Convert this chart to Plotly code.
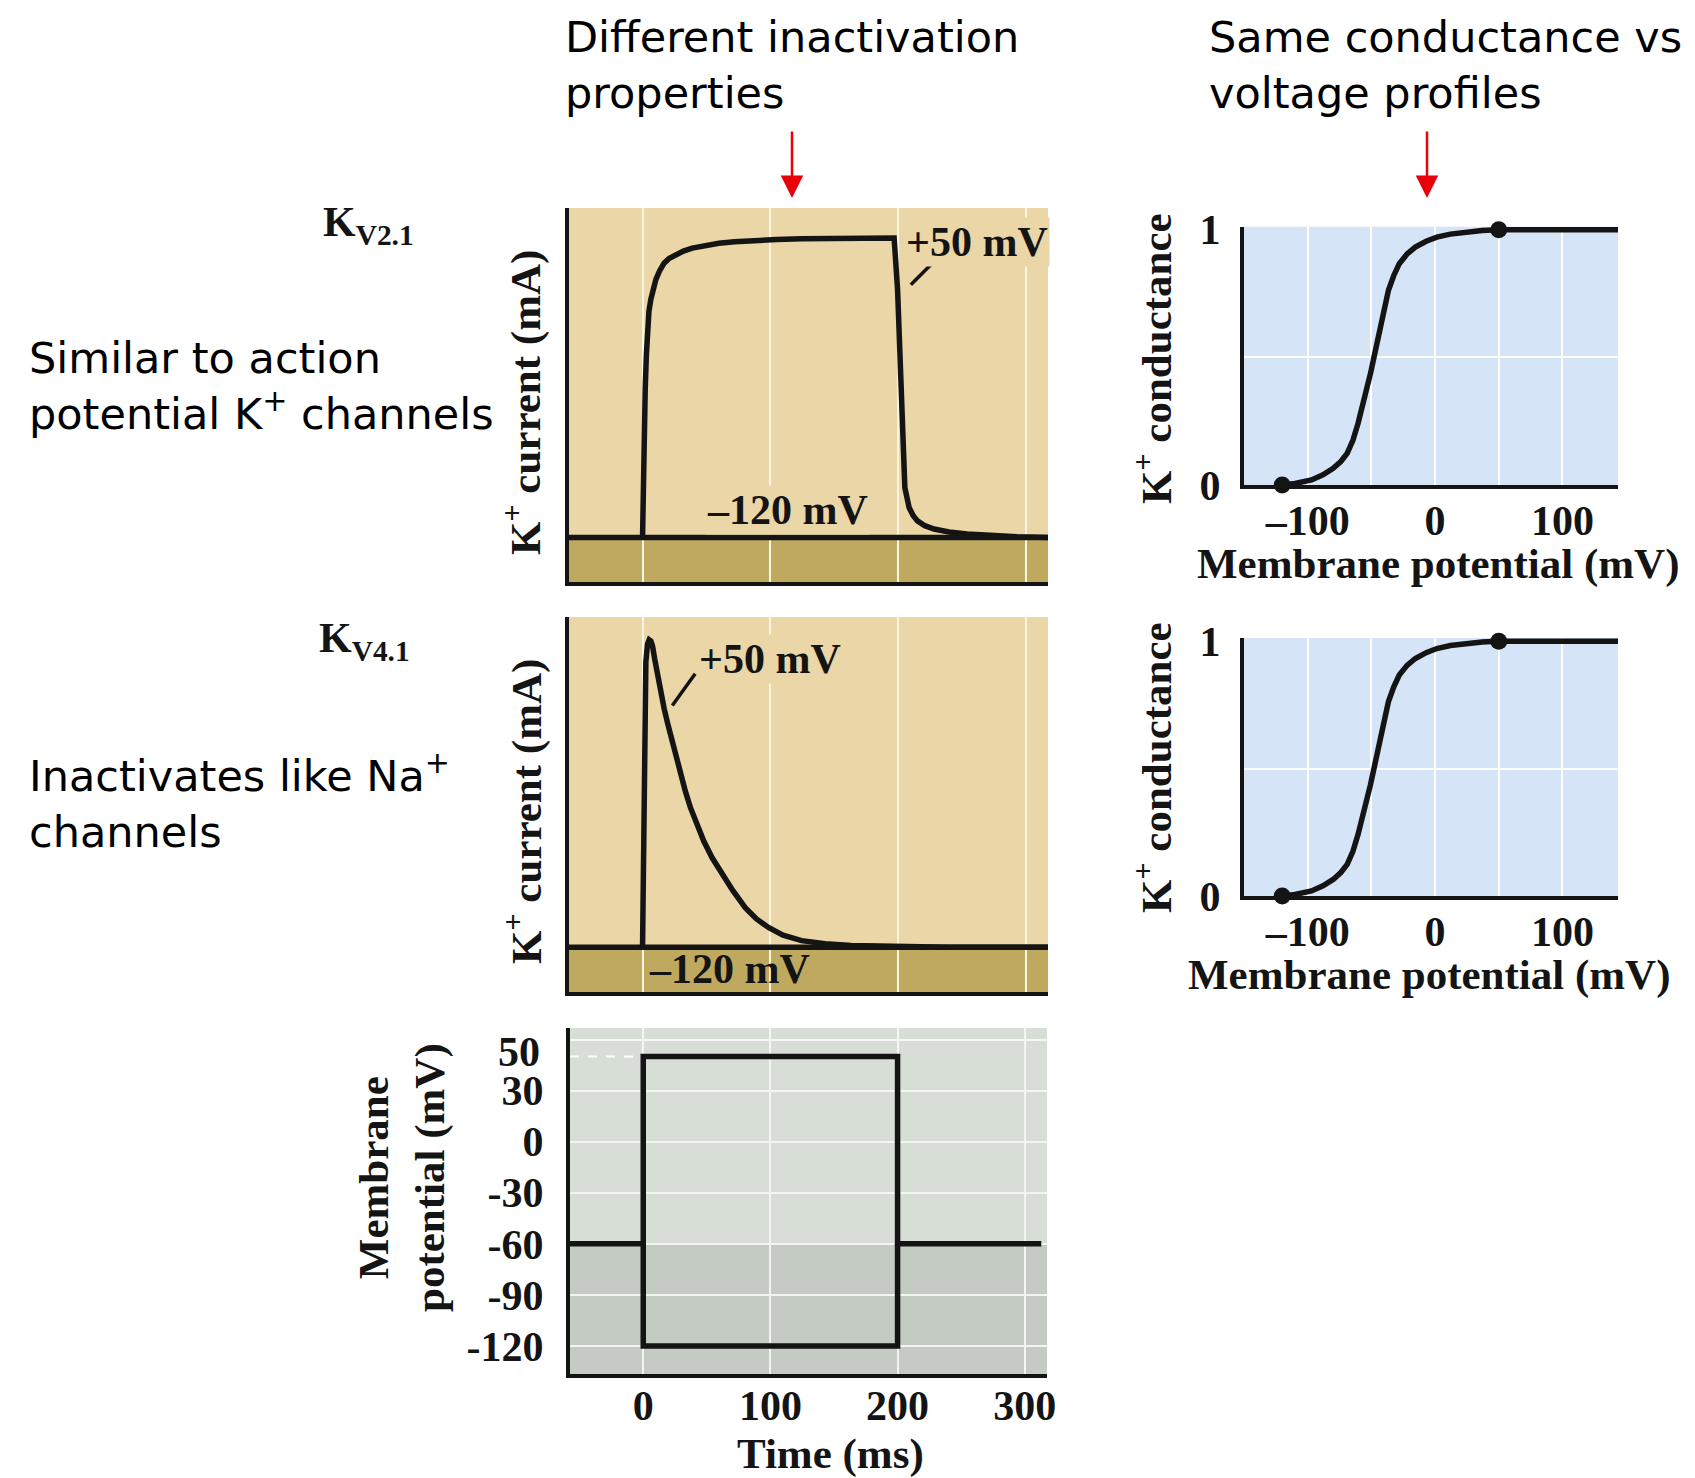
import plotly.graph_objects as go

# page body has an 8px margin; figure is sized to fit the window
OFF = 8
W, H = 1695 - OFF, 1478 - OFF

# ---------------- data ----------------
time_range = [-57.6, 317.5]          # ms
time_ticks = [0, 100, 200, 300]

# Kv2.1 current during the +50 mV step (normalised)
kv21_t = [0, 0.5, 1.2, 2.1, 3.0, 3.9, 5.0, 6.5, 8.3, 10.4, 13.3, 16.9, 21, 25.9, 32, 38.9, 48,
          59.7, 72, 85.6, 105, 124.5, 160, 197, 199.7, 202.3, 205.4, 208.8, 212, 215.3, 221,
          228.3, 240, 254.2, 272, 293.1, 317.5]
kv21_i = [0, 0.166, 0.33, 0.497, 0.61, 0.695, 0.755, 0.795, 0.83, 0.861, 0.89, 0.916, 0.932,
          0.944, 0.956, 0.966, 0.975, 0.982, 0.987, 0.991, 0.995, 0.997, 0.999, 1.0, 0.828,
          0.497, 0.166, 0.099, 0.072, 0.055, 0.039, 0.028, 0.018, 0.011, 0.005, 0.002, 0]

# Kv4.1 current during the +50 mV step (normalised)
kv41_t = [0, 2.6, 3.9, 5.2, 6.5, 7.8, 9.5, 11.7, 14, 16.9, 20, 23.3, 26.5, 29.8, 33.5, 37.6,
          42.5, 48, 54.5, 62.3, 70.5, 80.4, 89, 98.6, 110, 124.5, 143, 163.4, 200, 240, 317.5]
kv41_i = [0, 0.95, 1.01, 1.024, 1.02, 1.004, 0.96, 0.905, 0.85, 0.795, 0.74, 0.684, 0.63,
          0.574, 0.52, 0.464, 0.408, 0.353, 0.298, 0.243, 0.19, 0.132, 0.095, 0.066, 0.04,
          0.022, 0.012, 0.006, 0.002, 0, 0]

# -120 mV step: no current
baseline_t = [-57.6, 317.5]
baseline_i = [0, 0]

# Voltage protocol
step_times = [0, 200]
holding_mV = -60
test_mV = [50, -120]
protocol_end = 313
v_range = [-136.5, 66.8]
v_grid = [60, 30, 0, -30, -60, -90, -120]
v_labels = ["", "30", "0", "-30", "-60", "-90", "-120"]

# Conductance-voltage curve (same for both channels)
g_V = [-120, -110, -97, -88, -80, -74, -69, -64.5, -60.5, -57, -53.5, -50.7, -47.9, -45,
       -42.2, -39.4, -36.6, -32.5, -28.1, -22, -15.5, -7, 1.4, 12, 23.9, 37, 49.3, 143.6]
g_val = [0, 0.006, 0.02, 0.04, 0.065, 0.092, 0.124, 0.175, 0.241, 0.305, 0.372, 0.437, 0.502,
         0.567, 0.632, 0.698, 0.763, 0.82, 0.867, 0.905, 0.932, 0.955, 0.971, 0.983, 0.991,
         0.997, 1.0, 1.0]
g_dot_V = [-120, 50]
g_dot_val = [0, 1]
g_xticks = [-100, -50, 0, 50, 100]
g_xtext = ["\u2013100", "", "0", "", "100"]
g_range = [-150, 143.6]

# ---------------- styling ----------------
TAN = "#ead6a6"
TAN_DARK = "#bea95f"
TAN_GRID = "#fcf5e2"
GRAY = "#d7ded6"
GRAY_DARK = "#c3cbc3"
BLUE = "#d5e4f7"
INK = "#141414"
SERIF = "Liberation Serif"
SANS = "DejaVu Sans"
LW = 5.5


def dxp(a, b):
    return [(a - OFF) / W, (b - OFF) / W]


def dyp(top, bottom):
    return [1 - (bottom - OFF) / H, 1 - (top - OFF) / H]


def px(x):
    return (x - OFF) / W


def py(y):
    return 1 - (y - OFF) / H


fig = go.Figure()

line = dict(color=INK, width=LW)

# Kv2.1
fig.add_trace(go.Scatter(x=baseline_t, y=baseline_i, mode="lines", line=line, xaxis="x", yaxis="y"))
fig.add_trace(go.Scatter(x=kv21_t, y=kv21_i, mode="lines", line=line, xaxis="x", yaxis="y"))
# Kv4.1
fig.add_trace(go.Scatter(x=baseline_t, y=baseline_i, mode="lines", line=line, xaxis="x2", yaxis="y2"))
fig.add_trace(go.Scatter(x=kv41_t, y=kv41_i, mode="lines", line=line, xaxis="x2", yaxis="y2"))

# Voltage protocol
t0, t1 = step_times
fig.add_trace(go.Scatter(
    x=[time_range[0], t0, t0, t1, t1, protocol_end],
    y=[holding_mV, holding_mV, test_mV[0], test_mV[0], holding_mV, holding_mV],
    mode="lines", line=line, xaxis="x3", yaxis="y3"))
fig.add_trace(go.Scatter(
    x=[t0, t0, t1, t1],
    y=[holding_mV, test_mV[1], test_mV[1], holding_mV],
    mode="lines", line=line, xaxis="x3", yaxis="y3"))

# Conductance curves
for xa, ya in (("x4", "y4"), ("x5", "y5")):
    fig.add_trace(go.Scatter(x=g_V, y=g_val, mode="lines", line=line, xaxis=xa, yaxis=ya))
    fig.add_trace(go.Scatter(x=g_dot_V, y=g_dot_val, mode="markers", cliponaxis=False,
                             marker=dict(color=INK, size=17), xaxis=xa, yaxis=ya))

tick_font = dict(family=SERIF, size=42, color=INK, weight="bold")

common = dict(automargin=False, zeroline=False, showline=True, linecolor=INK, linewidth=4)

cur_x = dict(range=time_range, tickvals=time_ticks, showticklabels=False, showgrid=True,
             gridcolor=TAN_GRID, gridwidth=2, ticks="", **common)
cur_y = dict(range=[-0.149, 1.1], showgrid=False, showticklabels=False, ticks="", **common)

g_x = dict(range=g_range, tickvals=g_xticks, ticktext=g_xtext, showgrid=True,
           gridcolor="white", gridwidth=2, ticks="", ticklabelstandoff=-4,
           tickfont=tick_font, **common)
g_y = dict(range=[0, 1.012], tickvals=[0, 1], ticktext=["0", "1"], showgrid=False,
           minor=dict(tickvals=[0.5], showgrid=True, gridcolor="white", gridwidth=2),
           ticks="outside", ticklen=11, tickcolor="rgba(0,0,0,0)", tickfont=tick_font,
           **common)

fig.update_layout(
    width=W, height=H, margin=dict(l=0, r=0, t=0, b=0, autoexpand=False),
    paper_bgcolor="white", plot_bgcolor="rgba(0,0,0,0)", showlegend=False,
    xaxis=dict(domain=dxp(569, 1048), anchor="y", **cur_x),
    yaxis=dict(domain=dyp(208, 582), anchor="x", **cur_y),
    xaxis2=dict(domain=dxp(569, 1048), anchor="y2", **cur_x),
    yaxis2=dict(domain=dyp(617, 992), anchor="x2", **cur_y),
    xaxis3=dict(domain=dxp(570, 1047), anchor="y3", range=time_range, tickvals=time_ticks,
                showgrid=True, gridcolor="#f2f5f1", gridwidth=2, ticks="",
                ticklabelstandoff=-8, tickfont=tick_font, **common),
    yaxis3=dict(domain=dyp(1028, 1374), anchor="x3", range=v_range, tickvals=v_grid,
                ticktext=v_labels, showgrid=True, gridcolor="#f2f5f1", gridwidth=2,
                ticks="outside", ticklen=14, tickcolor="rgba(0,0,0,0)", tickfont=tick_font,
                **common),
    xaxis4=dict(domain=dxp(1244, 1618), anchor="y4", **g_x),
    yaxis4=dict(domain=dyp(226.7, 485), anchor="x4", **g_y),
    xaxis5=dict(domain=dxp(1244, 1618), anchor="y5", **g_x),
    yaxis5=dict(domain=dyp(638.1, 896), anchor="x5", **g_y),
)

shapes = []
for xr, yr in (("x", "y"), ("x2", "y2")):
    shapes.append(dict(type="rect", xref=f"{xr} domain", yref=f"{yr} domain", x0=0, x1=1,
                       y0=0, y1=1, fillcolor=TAN, line_width=0, layer="below"))
    shapes.append(dict(type="rect", xref=f"{xr} domain", yref=yr, x0=0, x1=1,
                       y0=-0.149, y1=0, fillcolor=TAN_DARK, line_width=0, layer="below"))
shapes.append(dict(type="rect", xref="x3 domain", yref="y3 domain", x0=0, x1=1, y0=0, y1=1,
                   fillcolor=GRAY, line_width=0, layer="below"))
shapes.append(dict(type="rect", xref="x3 domain", yref="y3", x0=0, x1=1, y0=v_range[0],
                   y1=holding_mV, fillcolor=GRAY_DARK, line_width=0, layer="below"))
shapes.append(dict(type="line", xref="x3", yref="y3", x0=time_range[0], x1=t0, y0=test_mV[0],
                   y1=test_mV[0], line=dict(color="white", width=2, dash="dash"), layer="below"))
for xr, yr in (("x4", "y4"), ("x5", "y5")):
    shapes.append(dict(type="rect", xref=f"{xr} domain", yref=f"{yr} domain", x0=0, x1=1,
                       y0=0, y1=1, fillcolor=BLUE, line_width=0, layer="below"))
# pointer ticks next to the +50 mV labels
shapes.append(dict(type="line", xref="x", yref="y", x0=210.1, y0=0.844, x1=229.6, y1=0.927,
                   line=dict(color=INK, width=3.5)))
shapes.append(dict(type="line", xref="x2", yref="y2", x0=23.3, y0=0.805, x1=41.2, y1=0.911,
                   line=dict(color=INK, width=3.5)))
fig.update_layout(shapes=shapes)

ser = dict(family=SERIF, size=42, color=INK, weight="bold")
ser_t = dict(family=SERIF, size=43, color=INK, weight="bold")
sans = dict(family=SANS, size=43, color="black")
C = dict(xanchor="center", yanchor="middle", showarrow=False)
P = dict(xref="paper", yref="paper")
ann = []
# panel labels
ann.append(dict(text="+50 mV", x=262, y=0.987, xref="x", yref="y", font=ser, bgcolor=TAN, **C))
ann.append(dict(text="\u2013120 mV", x=113.6, y=0.09, xref="x", yref="y", font=ser,
                bgcolor=TAN, **C))
ann.append(dict(text="+50 mV", x=99.6, y=0.96, xref="x2", yref="y2", font=ser, bgcolor=TAN, **C))
ann.append(dict(text="\u2013120 mV", x=67.7, y=-0.073, xref="x2", yref="y2", font=ser, **C))
# voltage "50" tick label
ann.append(dict(text="50", x=px(542), y=test_mV[0], yshift=5, xref="paper", yref="y3",
                xanchor="right", yanchor="middle", showarrow=False, font=tick_font))
# axis titles
ann.append(dict(text="K<sup>+</sup> current (mA)", x=px(523), y=py(403), textangle=-90,
                font=ser_t, **P, **C))
ann.append(dict(text="K<sup>+</sup> current (mA)", x=px(523), y=py(812), textangle=-90,
                font=ser_t, **P, **C))
ann.append(dict(text="Membrane<br>potential (mV)", x=px(402), y=py(1178), textangle=-90,
                font=ser_t, **P, **C))
ann.append(dict(text="Time (ms)", x=px(830), y=py(1454), font=ser_t, **P, **C))
ann.append(dict(text="K<sup>+</sup> conductance", x=px(1153), y=py(359), textangle=-90,
                font=ser_t, **P, **C))
ann.append(dict(text="K<sup>+</sup> conductance", x=px(1153), y=py(768), textangle=-90,
                font=ser_t, **P, **C))
ann.append(dict(text="Membrane potential (mV)", x=px(1438), y=py(564), font=ser_t, **P, **C))
ann.append(dict(text="Membrane potential (mV)", x=px(1429), y=py(975), font=ser_t, **P, **C))
# channel names
L = dict(xanchor="left", yanchor="middle", align="left", showarrow=False)
ann.append(dict(text="K<sub>V2.1</sub>", x=px(321), y=py(225), font=ser, **P, **L))
ann.append(dict(text="K<sub>V4.1</sub>", x=px(317), y=py(641), font=ser, **P, **L))
# descriptive sans text
ann.append(dict(text="Different inactivation<br>properties", x=px(563), y=py(65),
                font=sans, **P, **L))
ann.append(dict(text="Same conductance vs<br>voltage profiles", x=px(1207), y=py(65),
                font=sans, **P, **L))
ann.append(dict(text="Similar to action<br>potential K<sup>+</sup> channels", x=px(27),
                y=py(386), font=sans, **P, **L))
ann.append(dict(text="Inactivates like Na<sup>+</sup><br>channels", x=px(27), y=py(801),
                font=sans, **P, **L))
# red arrows
for ax_x in (792, 1427):
    ann.append(dict(text="", x=px(ax_x), y=py(198), xref="paper", yref="paper",
                    showarrow=True, ax=0, ay=-68, arrowhead=2, arrowsize=1.8, arrowwidth=2.5,
                    arrowcolor="#e8000b"))
fig.update_layout(annotations=ann)

fig.write_html("out.html")
